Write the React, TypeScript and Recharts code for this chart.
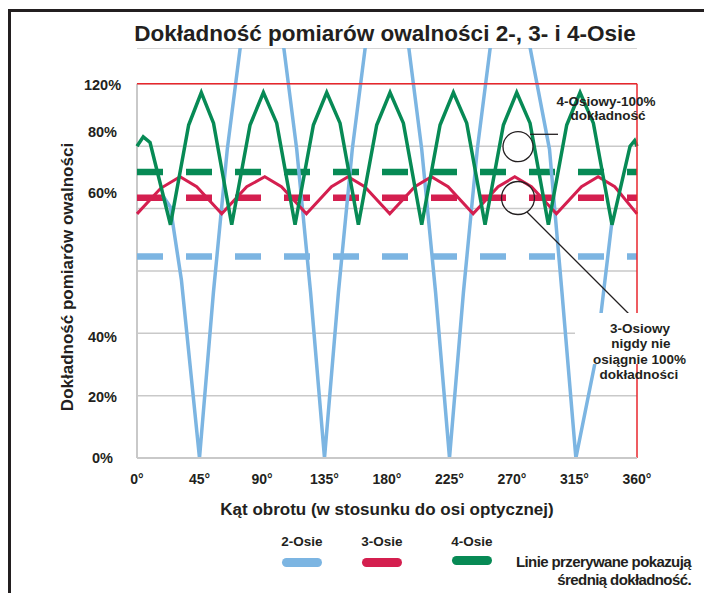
import React from 'react';
import {
  LineChart,
  Line,
  XAxis,
  YAxis,
  CartesianGrid,
  ReferenceLine,
} from 'recharts';

// kąt obrotu (stopnie) i dokładność (%)
const angleTicks = [0, 45, 90, 135, 180, 225, 270, 315, 360];
const percentTicks = [0, 20, 40, 60, 80, 100, 120];
const percentLabels = ['0%', '20%', '40%', '', '60%', '80%', '120%'];

const twoAxis = [
  { angle: 18.7, value: 84 }, { angle: 24, value: 80.5 }, { angle: 32, value: 57 },
  { angle: 45, value: 0 }, { angle: 55, value: 53 }, { angle: 65, value: 99 },
  { angle: 75, value: 134 }, { angle: 82.5, value: 150 }, { angle: 90, value: 155 },
  { angle: 97.5, value: 150 }, { angle: 105, value: 134 }, { angle: 115, value: 99 },
  { angle: 125, value: 53 }, { angle: 135, value: 0 }, { angle: 145, value: 53 },
  { angle: 155, value: 99 }, { angle: 165, value: 134 }, { angle: 172.5, value: 150 },
  { angle: 180, value: 155 }, { angle: 187.5, value: 150 }, { angle: 195, value: 134 },
  { angle: 205, value: 99 }, { angle: 215, value: 53 }, { angle: 225, value: 0 },
  { angle: 235, value: 53 }, { angle: 245, value: 99 }, { angle: 255, value: 134 },
  { angle: 262.5, value: 150 }, { angle: 270, value: 155 }, { angle: 276, value: 150 },
  { angle: 282, value: 134 }, { angle: 288, value: 120 }, { angle: 297, value: 99 },
  { angle: 306, value: 53 }, { angle: 316, value: 0 }, { angle: 330, value: 31 },
  { angle: 342, value: 76 },
];

const threeAxis = [
  { angle: 0, value: 78.3 }, { angle: 17, value: 86.5 }, { angle: 31, value: 90.2 },
  { angle: 43, value: 87 }, { angle: 61, value: 78.3 }, { angle: 79, value: 87 },
  { angle: 92, value: 90.2 }, { angle: 104, value: 87 }, { angle: 122, value: 78.3 },
  { angle: 140, value: 87 }, { angle: 152, value: 90.2 }, { angle: 164, value: 87 },
  { angle: 182, value: 78.3 }, { angle: 200, value: 87 }, { angle: 212, value: 90.2 },
  { angle: 224, value: 87 }, { angle: 242, value: 78.3 }, { angle: 260, value: 87 },
  { angle: 272, value: 90.2 }, { angle: 284, value: 87 }, { angle: 302, value: 78.3 },
  { angle: 320, value: 87 }, { angle: 332, value: 90.2 }, { angle: 344, value: 87 },
  { angle: 360, value: 78.3 },
];

const fourAxis = [
  { angle: 0, value: 100 }, { angle: 4.5, value: 103 }, { angle: 9.4, value: 101.2 },
  { angle: 24.1, value: 74.8 }, { angle: 37.2, value: 106.8 }, { angle: 46.3, value: 117.2 },
  { angle: 55.1, value: 107.4 }, { angle: 68.2, value: 74.8 }, { angle: 81.4, value: 106.8 },
  { angle: 91, value: 117.2 }, { angle: 100.6, value: 107.4 }, { angle: 113.8, value: 74.8 },
  { angle: 127, value: 106.8 }, { angle: 136.6, value: 117.2 }, { angle: 146.2, value: 107.4 },
  { angle: 159.4, value: 74.8 }, { angle: 172.6, value: 106.8 }, { angle: 182.2, value: 117.2 },
  { angle: 191.8, value: 107.4 }, { angle: 205, value: 74.8 }, { angle: 218.2, value: 106.8 },
  { angle: 227.8, value: 117.2 }, { angle: 237.4, value: 107.4 }, { angle: 250.6, value: 74.8 },
  { angle: 263.8, value: 106.8 }, { angle: 273.4, value: 117.2 }, { angle: 283, value: 107.4 },
  { angle: 296.2, value: 74.8 }, { angle: 309.4, value: 106.8 }, { angle: 319, value: 117.2 },
  { angle: 328.6, value: 107.4 }, { angle: 342, value: 74.8 }, { angle: 355, value: 100 },
  { angle: 358.3, value: 101.8 }, { angle: 360, value: 100 },
];

// średnie (linie przerywane)
const meanTwo = [{ angle: 0, value: 64.6 }, { angle: 360, value: 64.6 }];
const meanThree = [{ angle: 0, value: 83.5 }, { angle: 360, value: 83.5 }];
const meanFour = [{ angle: 0, value: 91.7 }, { angle: 360, value: 91.7 }];

const seriesNames = ['2-Osie', '3-Osie', '4-Osie'];
const BLUE = '#7cb5e2';
const RED = '#d41f4f';
const GREEN = '#078a55';
const FRAME_RED = '#e8262c';
const GRID = '#c9c9c9';
const INK = '#231f20';
const FONT = "'Liberation Sans', Arial, Helvetica, sans-serif";

const labelShift: Record<number, number> = { 0: 0, 20: 1, 40: 3, 80: -16, 100: -14, 120: 1 };

const PercentTick = (props: any) => {
  const { x, y, payload } = props;
  const i = percentTicks.indexOf(payload.value);
  return (
    <text
      x={x - 26.5}
      y={y + (labelShift[payload.value] ?? 0)}
      dy="0.36em"
      textAnchor="middle"
      fontFamily={FONT}
      fontWeight="bold"
      fontSize={14.5}
      fill={INK}
    >
      {percentLabels[i]}
    </text>
  );
};

export default function App() {
  const legendX = [302, 382, 472];
  const legendColors = [BLUE, RED, GREEN];
  return (
    <div style={{ position: 'relative', width: 704, height: 593, overflow: 'hidden', background: '#fff' }}>
      <style>{'html,body{margin:0;padding:0;overflow:hidden;}'}</style>
      <div
        style={{
          position: 'absolute',
          left: 8,
          top: 9,
          width: 720,
          height: 620,
          borderTop: `3px solid ${INK}`,
          borderLeft: `3px solid ${INK}`,
        }}
      />
      <div style={{ position: 'absolute', left: 0, top: 0 }}>
        <LineChart width={704} height={593} margin={{ top: 48, right: 67, bottom: 105, left: 0 }}>
          <CartesianGrid horizontal vertical={false} stroke={GRID} strokeWidth={1.5} />
          <XAxis
            type="number"
            dataKey="angle"
            domain={[0, 360]}
            ticks={angleTicks}
            interval={0}
            tickFormatter={(v) => `${v}°`}
            tickLine={false}
            tickMargin={10}
            height={30}
            axisLine={{ stroke: GRID, strokeWidth: 2 }}
            tick={{ fill: INK, fontSize: 14, fontWeight: 'bold', fontFamily: FONT }}
          />
          <YAxis
            type="number"
            dataKey="value"
            domain={[0, 131.5]}
            allowDataOverflow
            ticks={percentTicks}
            interval={0}
            width={137}
            tickLine={false}
            axisLine={false}
            tick={<PercentTick />}
          />
          <ReferenceLine segment={[{ x: 0, y: 0 }, { x: 0, y: 120 }]} stroke={GRID} strokeWidth={2} />
          <Line data={meanTwo} dataKey="value" stroke={BLUE} strokeWidth={6.5} strokeDasharray="26 23" dot={false} isAnimationActive={false} />
          <Line data={meanThree} dataKey="value" stroke={RED} strokeWidth={6.5} strokeDasharray="26 23" dot={false} isAnimationActive={false} />
          <Line data={meanFour} dataKey="value" stroke={GREEN} strokeWidth={6.5} strokeDasharray="26 23" dot={false} isAnimationActive={false} />
          <Line data={twoAxis} dataKey="value" name={seriesNames[0]} type="linear" stroke={BLUE} strokeWidth={3.5} dot={false} isAnimationActive={false} />
          <Line data={threeAxis} dataKey="value" name={seriesNames[1]} type="linear" stroke={RED} strokeWidth={3} dot={false} isAnimationActive={false} />
          <Line data={fourAxis} dataKey="value" name={seriesNames[2]} type="linear" stroke={GREEN} strokeWidth={3.5} dot={false} isAnimationActive={false} />
          <ReferenceLine y={120} stroke={FRAME_RED} strokeWidth={1.5} />
          <ReferenceLine segment={[{ x: 360, y: 0 }, { x: 360, y: 120 }]} stroke={FRAME_RED} strokeWidth={1.5} />
        </LineChart>
      </div>
      <svg
        width={704}
        height={593}
        style={{ position: 'absolute', left: 0, top: 0, pointerEvents: 'none' }}
        fontFamily={FONT}
        fontWeight="bold"
        fill={INK}
      >
        <rect x={120} y={14} width={530} height={34} fill="#fff" />
        <text x={385} y={41} textAnchor="middle" fontSize={22.5}>
          Dokładność pomiarów owalności 2-, 3- i 4-Osie
        </text>
        <text transform="translate(73,277) rotate(-90)" textAnchor="middle" fontSize={17}>
          Dokładność pomiarów owalności
        </text>
        <text x={387} y={515} textAnchor="middle" fontSize={17}>
          Kąt obrotu (w stosunku do osi optycznej)
        </text>

        {/* adnotacje */}
        <circle cx={518} cy={146.7} r={15} fill="#fff" stroke={INK} strokeWidth={1.3} />
        <line x1={530} y1={134.3} x2={558} y2={134.3} stroke={INK} strokeWidth={1.3} />
        <circle cx={518} cy={198} r={16.5} fill="none" stroke={INK} strokeWidth={1.3} />
        <line x1={527} y1={212} x2={630} y2={315} stroke={INK} strokeWidth={1.3} />
        <text x={606} y={106} textAnchor="middle" fontSize={13.5}>4-Osiowy-100%</text>
        <text x={608} y={120} textAnchor="middle" fontSize={13.5}>dokładność</text>

        <rect x={575} y={313} width={125} height={51} fill="#fff" />
        <text x={640} y={333} textAnchor="middle" fontSize={13.5}>3-Osiowy</text>
        <text x={641} y={348} textAnchor="middle" fontSize={13.5}>nigdy nie</text>
        <text x={639.5} y={364} textAnchor="middle" fontSize={13.5}>osiągnie 100%</text>
        <text x={639} y={379} textAnchor="middle" fontSize={13.5}>dokładności</text>

        {/* legenda */}
        {seriesNames.map((n, i) => (
          <g key={n}>
            <text x={legendX[i]} y={546} textAnchor="middle" fontSize={13.5}>{n}</text>
            <rect x={legendX[i] - 20} y={558 - (i === 2 ? 2 : 0)} width={40} height={9} rx={4.5} fill={legendColors[i]} />
          </g>
        ))}
        <text x={691} y={567} textAnchor="end" fontSize={15} letterSpacing={-0.6}>Linie przerywane pokazują</text>
        <text x={691} y={585} textAnchor="end" fontSize={15} letterSpacing={-0.6}>średnią dokładność.</text>
      </svg>
    </div>
  );
}
